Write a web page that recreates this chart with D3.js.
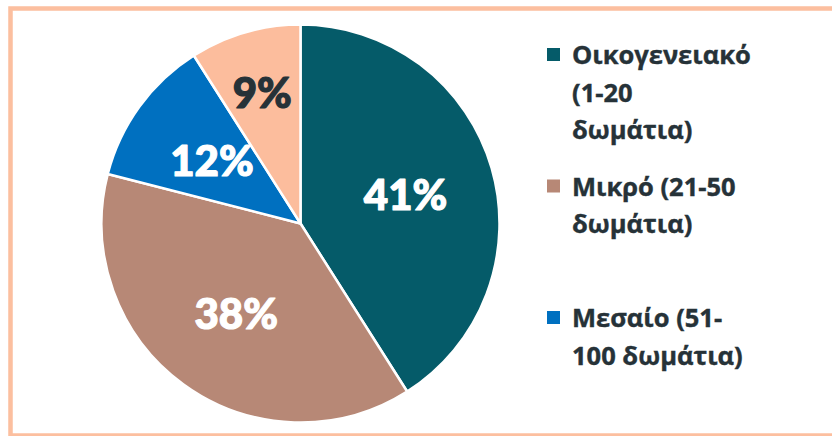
<!DOCTYPE html>
<html>
<head>
<meta charset="utf-8">
<script src="https://cdn.jsdelivr.net/npm/d3@7"></script>
<style>
  html, body { margin: 0; padding: 0; background: #fff; overflow: hidden; }
  #chart { width: 832px; height: 436px; }
</style>
</head>
<body>
<div id="chart"></div>
<script>
// Hotel size share (percent)
const categories = ['Οικογενειακό (1-20 δωμάτια)', 'Μικρό (21-50 δωμάτια)', 'Μεσαίο (51-100 δωμάτια)', 'Μεγάλο (>100 δωμάτια)'];
const legendLines = [
  ['Οικογενειακό', '(1-20', 'δωμάτια)'],
  ['Μικρό (21-50', 'δωμάτια)'],
  ['Μεσαίο (51-', '100 δωμάτια)'],
  ['Μεγάλο (>100', 'δωμάτια)']
];
const values = [41, 38, 12, 9];
const colors = ['#055b69', '#b78876', '#0070c0', '#fcbd9d'];
const labelColors = ['#ffffff', '#ffffff', '#ffffff', '#263238'];

const width = 832, height = 436;
const svg = d3.select('#chart').append('svg')
  .attr('width', width)
  .attr('height', height);

// outer frame (runs off the right edge like the source)
svg.append('rect')
  .attr('x', 10.5).attr('y', 8.5)
  .attr('width', 900).attr('height', 427)
  .attr('fill', '#fff')
  .attr('stroke', '#fcbf9f')
  .attr('stroke-width', 4.5);

const cx = 300.5, cy = 223.5, radius = 199;
const g = svg.append('g').attr('transform', `translate(${cx},${cy})`);

const data = categories.map((c, i) => ({ label: c, value: values[i], i }));
const pie = d3.pie().sort(null).value(d => d.value);
const arcs = pie(data);
const arc = d3.arc().innerRadius(0).outerRadius(radius);

g.selectAll('path')
  .data(arcs)
  .enter()
  .append('path')
  .attr('d', arc)
  .attr('fill', d => colors[d.data.i])
  .attr('stroke', '#fff')
  .attr('stroke-width', 2.5)
  .attr('stroke-linejoin', 'round');

// labels: thin slices pushed outward
const labelArc = d => {
  const span = d.endAngle - d.startAngle;
  const r = radius * (span < 0.7 ? 0.69 : 0.55);
  return d3.arc().innerRadius(r).outerRadius(r).centroid(d);
};

g.selectAll('.pct')
  .data(arcs)
  .enter()
  .append('text')
  .attr('class', 'pct')
  .attr('transform', d => `translate(${labelArc(d)})`)
  .attr('text-anchor', 'middle')
  .attr('dy', '0.4em')
  .attr('fill', d => labelColors[d.data.i])
  .attr('stroke', d => labelColors[d.data.i])
  .attr('stroke-width', 1.2)
  .attr('stroke-linejoin', 'round')
  .attr('font-family', 'Lato, "Open Sans", sans-serif')
  .attr('font-weight', 900)
  .attr('font-size', '42px')
  .text(d => d.data.value + '%');

// legend (entries that run past the frame are not shown, as in the source)
const legendTop = 48, legendStep = 131.5;
const shown = legendLines.filter((d, i) => legendTop + i * legendStep + 20 < height);
const legend = svg.append('g').attr('transform', `translate(547,${legendTop})`);
const item = legend.selectAll('.item')
  .data(shown)
  .enter()
  .append('g')
  .attr('class', 'item')
  .attr('transform', (d, i) => `translate(0,${i * legendStep})`);

item.append('rect')
  .attr('width', 13).attr('height', 13)
  .attr('fill', (d, i) => colors[i]);

item.append('text')
  .attr('y', 16)
  .attr('fill', '#263238')
  .attr('stroke', '#263238')
  .attr('stroke-width', 0.4)
  .attr('font-family', '"Open Sans", "Noto Sans", sans-serif')
  .attr('font-weight', 700)
  .attr('font-size', '25.5px')
  .selectAll('tspan')
  .data(d => d)
  .enter()
  .append('tspan')
  .attr('x', 25)
  .attr('dy', (d, i) => i === 0 ? 0 : 37.5)
  .text(d => d);
</script>
</body>
</html>
